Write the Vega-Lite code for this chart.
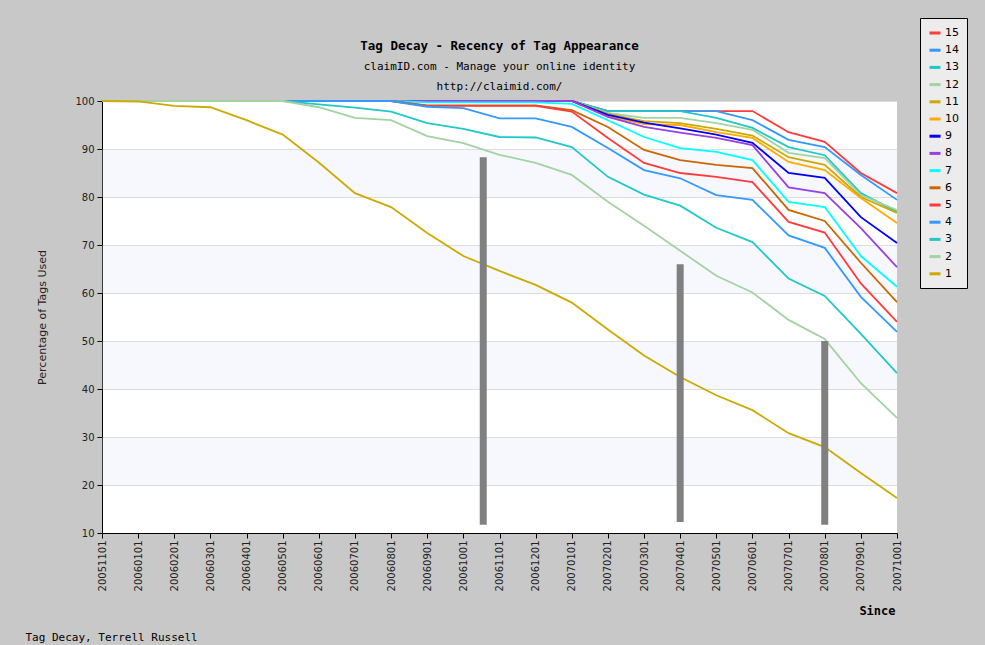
{
"$schema": "https://vega.github.io/schema/vega-lite/v6.json",
"width": 795, "height": 432,
"autosize": {"type": "none"},
"padding": {"left": 102, "top": 101, "right": 88, "bottom": 112},
"background": "#c8c8c8",
"config": {"view": {"stroke": null, "fill": "white"}, "font": "DejaVu Sans"},
"title": {"text": "Tag Decay - Recency of Tag Appearance", "subtitle": ["claimID.com - Manage your online identity", "http://claimid.com/"], "font": "DejaVu Sans Mono", "fontSize": 12.5, "fontWeight": "bold", "color": "#000", "subtitleFont": "DejaVu Sans Mono", "subtitleFontSize": 11, "subtitleColor": "#000", "subtitleLineHeight": 20, "subtitlePadding": 8, "anchor": "middle", "frame": "group", "offset": 8, "dy": 82},
"datasets": {
"bands": [{"lo":20,"hi":30},{"lo":40,"hi":50},{"lo":60,"hi":70},{"lo":80,"hi":90}],
"marks": [{"at":10.55,"lo":11.7,"hi":88.3},{"at":16,"lo":12.3,"hi":66},{"at":20,"lo":11.7,"hi":50}],
"decay": [
{"t":"15","d":"20051101","v":100},{"t":"15","d":"20060101","v":100},{"t":"15","d":"20060201","v":100},{"t":"15","d":"20060301","v":100},{"t":"15","d":"20060401","v":100},{"t":"15","d":"20060501","v":100},{"t":"15","d":"20060601","v":100},{"t":"15","d":"20060701","v":100},{"t":"15","d":"20060801","v":100},{"t":"15","d":"20060901","v":100},{"t":"15","d":"20061001","v":100},{"t":"15","d":"20061101","v":100},{"t":"15","d":"20061201","v":100},{"t":"15","d":"20070101","v":100},{"t":"15","d":"20070201","v":97.9},{"t":"15","d":"20070301","v":97.9},{"t":"15","d":"20070401","v":97.9},{"t":"15","d":"20070501","v":97.9},{"t":"15","d":"20070601","v":97.9},{"t":"15","d":"20070701","v":93.5},{"t":"15","d":"20070801","v":91.5},{"t":"15","d":"20070901","v":85},{"t":"15","d":"20071001","v":80.8},
{"t":"14","d":"20051101","v":100},{"t":"14","d":"20060101","v":100},{"t":"14","d":"20060201","v":100},{"t":"14","d":"20060301","v":100},{"t":"14","d":"20060401","v":100},{"t":"14","d":"20060501","v":100},{"t":"14","d":"20060601","v":100},{"t":"14","d":"20060701","v":100},{"t":"14","d":"20060801","v":100},{"t":"14","d":"20060901","v":100},{"t":"14","d":"20061001","v":100},{"t":"14","d":"20061101","v":100},{"t":"14","d":"20061201","v":100},{"t":"14","d":"20070101","v":100},{"t":"14","d":"20070201","v":97.9},{"t":"14","d":"20070301","v":97.9},{"t":"14","d":"20070401","v":97.9},{"t":"14","d":"20070501","v":97.9},{"t":"14","d":"20070601","v":96},{"t":"14","d":"20070701","v":91.9},{"t":"14","d":"20070801","v":90.4},{"t":"14","d":"20070901","v":84.6},{"t":"14","d":"20071001","v":79.4},
{"t":"13","d":"20051101","v":100},{"t":"13","d":"20060101","v":100},{"t":"13","d":"20060201","v":100},{"t":"13","d":"20060301","v":100},{"t":"13","d":"20060401","v":100},{"t":"13","d":"20060501","v":100},{"t":"13","d":"20060601","v":100},{"t":"13","d":"20060701","v":100},{"t":"13","d":"20060801","v":100},{"t":"13","d":"20060901","v":100},{"t":"13","d":"20061001","v":100},{"t":"13","d":"20061101","v":100},{"t":"13","d":"20061201","v":100},{"t":"13","d":"20070101","v":100},{"t":"13","d":"20070201","v":97.9},{"t":"13","d":"20070301","v":97.9},{"t":"13","d":"20070401","v":97.9},{"t":"13","d":"20070501","v":96.5},{"t":"13","d":"20070601","v":94.4},{"t":"13","d":"20070701","v":90.4},{"t":"13","d":"20070801","v":88.7},{"t":"13","d":"20070901","v":80.8},{"t":"13","d":"20071001","v":76.9},
{"t":"12","d":"20051101","v":100},{"t":"12","d":"20060101","v":100},{"t":"12","d":"20060201","v":100},{"t":"12","d":"20060301","v":100},{"t":"12","d":"20060401","v":100},{"t":"12","d":"20060501","v":100},{"t":"12","d":"20060601","v":100},{"t":"12","d":"20060701","v":100},{"t":"12","d":"20060801","v":100},{"t":"12","d":"20060901","v":100},{"t":"12","d":"20061001","v":100},{"t":"12","d":"20061101","v":100},{"t":"12","d":"20061201","v":100},{"t":"12","d":"20070101","v":100},{"t":"12","d":"20070201","v":97.5},{"t":"12","d":"20070301","v":96.5},{"t":"12","d":"20070401","v":96.5},{"t":"12","d":"20070501","v":95.4},{"t":"12","d":"20070601","v":94},{"t":"12","d":"20070701","v":89.2},{"t":"12","d":"20070801","v":88.1},{"t":"12","d":"20070901","v":80.4},{"t":"12","d":"20071001","v":77.3},
{"t":"11","d":"20051101","v":100},{"t":"11","d":"20060101","v":100},{"t":"11","d":"20060201","v":100},{"t":"11","d":"20060301","v":100},{"t":"11","d":"20060401","v":100},{"t":"11","d":"20060501","v":100},{"t":"11","d":"20060601","v":100},{"t":"11","d":"20060701","v":100},{"t":"11","d":"20060801","v":100},{"t":"11","d":"20060901","v":100},{"t":"11","d":"20061001","v":100},{"t":"11","d":"20061101","v":100},{"t":"11","d":"20061201","v":100},{"t":"11","d":"20070101","v":100},{"t":"11","d":"20070201","v":97.3},{"t":"11","d":"20070301","v":95.8},{"t":"11","d":"20070401","v":95.4},{"t":"11","d":"20070501","v":94.2},{"t":"11","d":"20070601","v":92.8},{"t":"11","d":"20070701","v":88.3},{"t":"11","d":"20070801","v":86.7},{"t":"11","d":"20070901","v":80},{"t":"11","d":"20071001","v":76.7},
{"t":"10","d":"20051101","v":100},{"t":"10","d":"20060101","v":100},{"t":"10","d":"20060201","v":100},{"t":"10","d":"20060301","v":100},{"t":"10","d":"20060401","v":100},{"t":"10","d":"20060501","v":100},{"t":"10","d":"20060601","v":100},{"t":"10","d":"20060701","v":100},{"t":"10","d":"20060801","v":100},{"t":"10","d":"20060901","v":100},{"t":"10","d":"20061001","v":100},{"t":"10","d":"20061101","v":100},{"t":"10","d":"20061201","v":100},{"t":"10","d":"20070101","v":100},{"t":"10","d":"20070201","v":96.8},{"t":"10","d":"20070301","v":95.2},{"t":"10","d":"20070401","v":95},{"t":"10","d":"20070501","v":93.5},{"t":"10","d":"20070601","v":92.3},{"t":"10","d":"20070701","v":87.3},{"t":"10","d":"20070801","v":85.6},{"t":"10","d":"20070901","v":79.8},{"t":"10","d":"20071001","v":74.6},
{"t":"9","d":"20051101","v":100},{"t":"9","d":"20060101","v":100},{"t":"9","d":"20060201","v":100},{"t":"9","d":"20060301","v":100},{"t":"9","d":"20060401","v":100},{"t":"9","d":"20060501","v":100},{"t":"9","d":"20060601","v":100},{"t":"9","d":"20060701","v":100},{"t":"9","d":"20060801","v":100},{"t":"9","d":"20060901","v":100},{"t":"9","d":"20061001","v":100},{"t":"9","d":"20061101","v":100},{"t":"9","d":"20061201","v":100},{"t":"9","d":"20070101","v":100},{"t":"9","d":"20070201","v":97.1},{"t":"9","d":"20070301","v":95.5},{"t":"9","d":"20070401","v":94.3},{"t":"9","d":"20070501","v":93},{"t":"9","d":"20070601","v":91.3},{"t":"9","d":"20070701","v":85},{"t":"9","d":"20070801","v":84},{"t":"9","d":"20070901","v":75.8},{"t":"9","d":"20071001","v":70.4},
{"t":"8","d":"20051101","v":100},{"t":"8","d":"20060101","v":100},{"t":"8","d":"20060201","v":100},{"t":"8","d":"20060301","v":100},{"t":"8","d":"20060401","v":100},{"t":"8","d":"20060501","v":100},{"t":"8","d":"20060601","v":100},{"t":"8","d":"20060701","v":100},{"t":"8","d":"20060801","v":100},{"t":"8","d":"20060901","v":100},{"t":"8","d":"20061001","v":100},{"t":"8","d":"20061101","v":100},{"t":"8","d":"20061201","v":100},{"t":"8","d":"20070101","v":100},{"t":"8","d":"20070201","v":96.7},{"t":"8","d":"20070301","v":94.6},{"t":"8","d":"20070401","v":93.4},{"t":"8","d":"20070501","v":92.3},{"t":"8","d":"20070601","v":90.8},{"t":"8","d":"20070701","v":82},{"t":"8","d":"20070801","v":80.8},{"t":"8","d":"20070901","v":73.5},{"t":"8","d":"20071001","v":65.4},
{"t":"7","d":"20051101","v":100},{"t":"7","d":"20060101","v":100},{"t":"7","d":"20060201","v":100},{"t":"7","d":"20060301","v":100},{"t":"7","d":"20060401","v":100},{"t":"7","d":"20060501","v":100},{"t":"7","d":"20060601","v":100},{"t":"7","d":"20060701","v":100},{"t":"7","d":"20060801","v":100},{"t":"7","d":"20060901","v":99.7},{"t":"7","d":"20061001","v":99.7},{"t":"7","d":"20061101","v":99.7},{"t":"7","d":"20061201","v":99.7},{"t":"7","d":"20070101","v":99.4},{"t":"7","d":"20070201","v":96},{"t":"7","d":"20070301","v":92.5},{"t":"7","d":"20070401","v":90.2},{"t":"7","d":"20070501","v":89.4},{"t":"7","d":"20070601","v":87.7},{"t":"7","d":"20070701","v":79},{"t":"7","d":"20070801","v":77.9},{"t":"7","d":"20070901","v":67.7},{"t":"7","d":"20071001","v":61.3},
{"t":"6","d":"20051101","v":100},{"t":"6","d":"20060101","v":100},{"t":"6","d":"20060201","v":100},{"t":"6","d":"20060301","v":100},{"t":"6","d":"20060401","v":100},{"t":"6","d":"20060501","v":100},{"t":"6","d":"20060601","v":100},{"t":"6","d":"20060701","v":100},{"t":"6","d":"20060801","v":100},{"t":"6","d":"20060901","v":99.1},{"t":"6","d":"20061001","v":99.1},{"t":"6","d":"20061101","v":99.1},{"t":"6","d":"20061201","v":99.1},{"t":"6","d":"20070101","v":98.1},{"t":"6","d":"20070201","v":94.6},{"t":"6","d":"20070301","v":89.8},{"t":"6","d":"20070401","v":87.7},{"t":"6","d":"20070501","v":86.7},{"t":"6","d":"20070601","v":86},{"t":"6","d":"20070701","v":77.3},{"t":"6","d":"20070801","v":75},{"t":"6","d":"20070901","v":66.3},{"t":"6","d":"20071001","v":58.1},
{"t":"5","d":"20051101","v":100},{"t":"5","d":"20060101","v":100},{"t":"5","d":"20060201","v":100},{"t":"5","d":"20060301","v":100},{"t":"5","d":"20060401","v":100},{"t":"5","d":"20060501","v":100},{"t":"5","d":"20060601","v":100},{"t":"5","d":"20060701","v":100},{"t":"5","d":"20060801","v":100},{"t":"5","d":"20060901","v":99},{"t":"5","d":"20061001","v":99},{"t":"5","d":"20061101","v":99},{"t":"5","d":"20061201","v":99},{"t":"5","d":"20070101","v":97.8},{"t":"5","d":"20070201","v":92.3},{"t":"5","d":"20070301","v":87.1},{"t":"5","d":"20070401","v":85},{"t":"5","d":"20070501","v":84.2},{"t":"5","d":"20070601","v":83.1},{"t":"5","d":"20070701","v":74.8},{"t":"5","d":"20070801","v":72.6},{"t":"5","d":"20070901","v":62},{"t":"5","d":"20071001","v":54},
{"t":"4","d":"20051101","v":100},{"t":"4","d":"20060101","v":100},{"t":"4","d":"20060201","v":100},{"t":"4","d":"20060301","v":100},{"t":"4","d":"20060401","v":100},{"t":"4","d":"20060501","v":100},{"t":"4","d":"20060601","v":100},{"t":"4","d":"20060701","v":100},{"t":"4","d":"20060801","v":100},{"t":"4","d":"20060901","v":98.8},{"t":"4","d":"20061001","v":98.5},{"t":"4","d":"20061101","v":96.4},{"t":"4","d":"20061201","v":96.4},{"t":"4","d":"20070101","v":94.6},{"t":"4","d":"20070201","v":90.2},{"t":"4","d":"20070301","v":85.6},{"t":"4","d":"20070401","v":83.9},{"t":"4","d":"20070501","v":80.4},{"t":"4","d":"20070601","v":79.4},{"t":"4","d":"20070701","v":72},{"t":"4","d":"20070801","v":69.4},{"t":"4","d":"20070901","v":59.2},{"t":"4","d":"20071001","v":51.9},
{"t":"3","d":"20051101","v":100},{"t":"3","d":"20060101","v":100},{"t":"3","d":"20060201","v":100},{"t":"3","d":"20060301","v":100},{"t":"3","d":"20060401","v":100},{"t":"3","d":"20060501","v":100},{"t":"3","d":"20060601","v":99.3},{"t":"3","d":"20060701","v":98.6},{"t":"3","d":"20060801","v":97.8},{"t":"3","d":"20060901","v":95.4},{"t":"3","d":"20061001","v":94.2},{"t":"3","d":"20061101","v":92.5},{"t":"3","d":"20061201","v":92.4},{"t":"3","d":"20070101","v":90.4},{"t":"3","d":"20070201","v":84.2},{"t":"3","d":"20070301","v":80.5},{"t":"3","d":"20070401","v":78.2},{"t":"3","d":"20070501","v":73.6},{"t":"3","d":"20070601","v":70.6},{"t":"3","d":"20070701","v":63},{"t":"3","d":"20070801","v":59.4},{"t":"3","d":"20070901","v":51.5},{"t":"3","d":"20071001","v":43.3},
{"t":"2","d":"20051101","v":100},{"t":"2","d":"20060101","v":100},{"t":"2","d":"20060201","v":100},{"t":"2","d":"20060301","v":100},{"t":"2","d":"20060401","v":100},{"t":"2","d":"20060501","v":100},{"t":"2","d":"20060601","v":98.7},{"t":"2","d":"20060701","v":96.5},{"t":"2","d":"20060801","v":96},{"t":"2","d":"20060901","v":92.7},{"t":"2","d":"20061001","v":91.2},{"t":"2","d":"20061101","v":88.8},{"t":"2","d":"20061201","v":87.1},{"t":"2","d":"20070101","v":84.6},{"t":"2","d":"20070201","v":79},{"t":"2","d":"20070301","v":74},{"t":"2","d":"20070401","v":68.8},{"t":"2","d":"20070501","v":63.6},{"t":"2","d":"20070601","v":60.1},{"t":"2","d":"20070701","v":54.4},{"t":"2","d":"20070801","v":50.4},{"t":"2","d":"20070901","v":41.2},{"t":"2","d":"20071001","v":34},
{"t":"1","d":"20051101","v":100},{"t":"1","d":"20060101","v":99.9},{"t":"1","d":"20060201","v":99},{"t":"1","d":"20060301","v":98.7},{"t":"1","d":"20060401","v":96},{"t":"1","d":"20060501","v":93},{"t":"1","d":"20060601","v":87.2},{"t":"1","d":"20060701","v":80.8},{"t":"1","d":"20060801","v":77.9},{"t":"1","d":"20060901","v":72.5},{"t":"1","d":"20061001","v":67.7},{"t":"1","d":"20061101","v":64.6},{"t":"1","d":"20061201","v":61.7},{"t":"1","d":"20070101","v":58},{"t":"1","d":"20070201","v":52.4},{"t":"1","d":"20070301","v":47},{"t":"1","d":"20070401","v":42.5},{"t":"1","d":"20070501","v":38.7},{"t":"1","d":"20070601","v":35.6},{"t":"1","d":"20070701","v":30.8},{"t":"1","d":"20070801","v":27.9},{"t":"1","d":"20070901","v":22.5},{"t":"1","d":"20071001","v":17.3}
]},
"layer": [
{"data": {"name": "bands"}, "mark": {"type": "rect", "fill": "#dfe4f7", "fillOpacity": 0.25},
 "encoding": {"y": {"field": "lo", "type": "quantitative", "scale": {"domain": [10, 100]}, "title": "Percentage of Tags Used",
   "axis": {"values": [10, 20, 30, 40, 50, 60, 70, 80, 90, 100], "titleFont": "DejaVu Sans", "titleFontSize": 11, "titleFontWeight": "normal", "titleColor": "#222", "titleX": -60, "titleY": 216, "titleAngle": 270, "titleAlign": "center", "titleBaseline": "middle", "labelFont": "DejaVu Sans", "labelFontSize": 10, "labelColor": "#222", "labelPadding": 3, "tickSize": 5, "tickColor": "#000", "domainColor": "#000", "grid": true, "gridColor": "#dcdcdc"}},
  "y2": {"field": "hi"}}},
{"data": {"name": "decay"}, "mark": {"type": "line", "strokeWidth": 1.8},
 "encoding": {
  "x": {"field": "d", "type": "ordinal", "scale": {"type": "point", "padding": 0},
   "axis": {"orient": "bottom", "title": "Since", "titleFont": "DejaVu Sans Mono", "titleFontSize": 12, "titleFontWeight": "bold", "titleColor": "#000", "titleX": 793, "titleY": 81, "titleAlign": "right", "titleBaseline": "alphabetic", "labelAngle": 270, "labelAlign": "right", "labelBaseline": "middle", "labelFont": "DejaVu Sans", "labelFontSize": 10, "labelColor": "#222", "labelPadding": 2, "labelOverlap": false, "tickSize": 5, "tickColor": "#000", "domainColor": "#000", "grid": false}},
  "y": {"field": "v", "type": "quantitative", "scale": {"domain": [10, 100]}, "title": "Percentage of Tags Used",
   "axis": {"values": [10, 20, 30, 40, 50, 60, 70, 80, 90, 100], "titleFont": "DejaVu Sans", "titleFontSize": 11, "titleFontWeight": "normal", "titleColor": "#222", "titleX": -60, "titleY": 216, "titleAngle": 270, "titleAlign": "center", "titleBaseline": "middle", "labelFont": "DejaVu Sans", "labelFontSize": 10, "labelColor": "#222", "labelPadding": 3, "tickSize": 5, "tickColor": "#000", "domainColor": "#000", "grid": true, "gridColor": "#dcdcdc"}},
  "color": {"field": "t", "type": "nominal",
   "scale": {"domain": ["15","14","13","12","11","10","9","8","7","6","5","4","3","2","1"],
    "range": ["#ff3b3b","#3399ff","#20c8c8","#a3d3a3","#ccaa00","#ffaa00","#0000ff","#9940e0","#00ffff","#cc6600","#ff3b3b","#3399ff","#20c8c8","#a3d3a3","#ccaa00"]},
   "legend": {"orient": "none", "legendX": 818, "legendY": -83, "title": null, "symbolType": "stroke", "symbolSize": 121, "symbolStrokeWidth": 3, "labelFont": "DejaVu Sans", "labelFontSize": 11, "labelColor": "#000", "fillColor": "#ececec", "strokeColor": "#000", "padding": 8, "rowPadding": 4.2, "labelOffset": 3}}
 }},
{"data": {"name": "marks"}, "mark": {"type": "rule", "color": "#808080", "strokeWidth": 7},
 "encoding": {
  "x": {"field": "at", "type": "quantitative", "scale": {"domain": [0, 22], "nice": false, "zero": false},
   "axis": {"orient": "bottom", "labels": false, "ticks": false, "domain": false, "grid": false, "title": "Tag Decay, Terrell Russell", "titleFont": "DejaVu Sans Mono", "titleFontSize": 11, "titleFontWeight": "normal", "titleColor": "#000", "titleX": -77, "titleY": 107, "titleAlign": "left", "titleBaseline": "alphabetic"}},
  "y": {"field": "lo", "type": "quantitative", "scale": {"domain": [10, 100]}, "title": "Percentage of Tags Used"},
  "y2": {"field": "hi"}
 }}
],
"resolve": {"scale": {"x": "independent"}, "axis": {"x": "independent"}}
}
